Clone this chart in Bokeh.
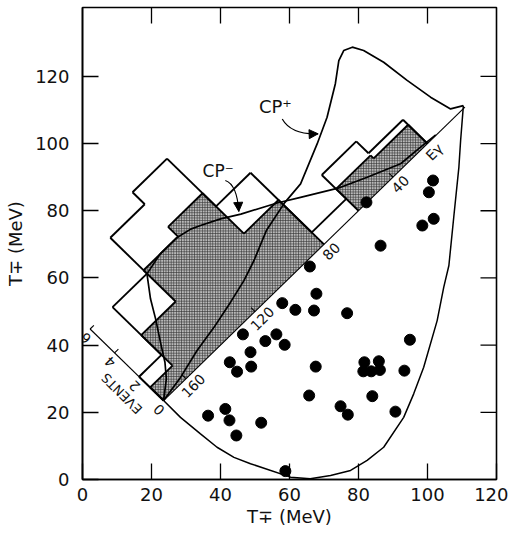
import numpy as np
from bokeh.plotting import figure
from bokeh.models import Range1d, FixedTicker, Arrow, NormalHead
from bokeh.core.properties import value
from bokeh.embed import file_html
from bokeh.resources import INLINE

# ---------------- data ----------------
# Dalitz-plot boundary, lower half (T_-+ , T_+-) in MeV
boundary_x = [23.5, 28.4, 34.2, 39.0, 43.9, 48.7, 60.3, 66.0, 71.9, 77.7, 82.5,
              87.3, 93.1, 96.0, 98.9, 102.8, 104.7, 106.2, 107.6, 109.1, 109.6, 110.4]
boundary_y = [23.5, 18.5, 13.6, 9.6, 6.6, 4.7, 0.7, 0.2, 1.2, 2.7, 5.7,
              9.6, 18.5, 25.5, 33.4, 47.3, 57.2, 63.7, 78.0, 93.0, 100.9, 111.3]

# events (T_-+ , T_+-) in MeV
events_x = [101.6, 100.4, 101.8, 98.5, 86.4, 82.3, 65.9, 67.8, 57.9, 61.7, 67.1, 76.7,
            56.2, 53.0, 58.6, 94.9, 48.7, 48.9, 67.6, 81.7, 85.9, 81.4, 83.7, 86.2,
            93.3, 65.7, 84.0, 74.8, 76.9, 90.7, 51.8, 58.8, 46.5, 42.7, 44.8, 41.4,
            36.4, 42.6, 44.6]
events_y = [89.0, 85.5, 77.6, 75.6, 69.6, 82.5, 63.4, 55.3, 52.5, 50.5, 50.3, 49.5,
            43.2, 41.2, 40.1, 41.6, 37.9, 33.6, 33.6, 34.9, 35.2, 32.2, 32.2, 32.6,
            32.4, 25.0, 24.8, 21.8, 19.3, 20.2, 16.9, 2.5, 43.2, 34.9, 32.1, 21.0,
            19.0, 17.6, 13.1]

# E_gamma histogram (bin edges in MeV, counts)
egamma_edges = [0, 20, 40, 60, 80, 100, 120, 140, 160, 173]
counts_all = [0, 2, 3, 1, 6, 10, 9, 6, 2]
counts_shaded = [0, 1.58, 1.83, 0, 3.72, 7.1, 6.28, 3.66, 1.1]

# theoretical spectra (E_gamma in MeV, events)
cp_plus_egamma = [-1.7, 3.0, 5.3, 7.1, 8.5, 10.8, 13.1, 16.6, 21.0, 28.9, 41.3, 52.1,
                  68.8, 79.1, 92.6, 96.8, 105.1, 114.0, 124.3, 136.6, 148.4, 161.2, 173]
cp_plus_events = [0.13, 0.51, 1.82, 3.48, 5.2, 6.51, 7.11, 7.32, 7.1, 6.27, 5.2, 4.49,
                  3.49, 3.35, 2.93, 2.68, 2.18, 1.75, 1.39, 1.01, 0.73, 0.28, 0.0]
cp_minus_egamma = [15, 23.1, 33.8, 47.5, 59.2, 72.8, 81.3, 95.1, 102.4, 110.2, 114.1,
                   120.7, 130.2, 140.1, 146.5, 151.0, 156.5, 161.2, 165.7, 173]
cp_minus_events = [0.03, 0.13, 0.25, 1.05, 1.78, 2.93, 3.65, 4.66, 5.29, 5.83, 6.08,
                   6.29, 6.29, 5.99, 4.8, 3.75, 2.58, 1.55, 0.8, 0.0]

axis_ticks = [0, 20, 40, 60, 80, 100, 120]
egamma_ticks = [40, 80, 120, 160]
egamma_tick_labels = ["40", "80", "120", "160"]
event_ticks = [0, 2, 4, 6]
event_tick_labels = ["0", "2", "4", "6"]

# ---------------- layout constants ----------------
X_MAX, Y_MAX = 120.0, 140.5
FRAME_W, FRAME_H = 414, 472
B_LEFT, B_RIGHT, B_TOP, B_BOTTOM = 82, 12, 7, 60
TICK_PX = 16

# ---------------- rotated (E_gamma, events) frame ----------------
Q = 220.0      # T+ + T- where E_gamma = 0 on the drawing
A = 3.55       # offset per event along (-1, +1)
E_MAX = 173.0


def rot(E, n):
    E = np.asarray(E, dtype=float)
    n = np.asarray(n, dtype=float)
    t = (Q - E) / 2.0
    return t - A * n, t + A * n


def step_segments(edges, vals):
    segs = []
    N = len(vals)
    for i, v in enumerate(vals):
        if v > 0:
            segs.append((edges[i], v, edges[i + 1], v))
    for j in range(N + 1):
        left = vals[j - 1] if j > 0 else 0
        right = vals[j] if j < N else 0
        if left != right:
            segs.append((edges[j], left, edges[j], right))
    return segs


def seg_xy(segs):
    e0 = [s[0] for s in segs]; n0 = [s[1] for s in segs]
    e1 = [s[2] for s in segs]; n1 = [s[3] for s in segs]
    x0, y0 = rot(e0, n0)
    x1, y1 = rot(e1, n1)
    return x0, y0, x1, y1


FONT = "DejaVu Sans"
INK = "#111111"

p = figure(width=B_LEFT + FRAME_W + B_RIGHT, height=B_TOP + FRAME_H + B_BOTTOM,
           x_range=Range1d(0, X_MAX), y_range=Range1d(0, Y_MAX),
           output_backend="svg", toolbar_location=None,
           min_border_left=B_LEFT, min_border_right=B_RIGHT,
           min_border_top=B_TOP, min_border_bottom=B_BOTTOM)
p.grid.visible = False
p.outline_line_color = "black"
p.outline_line_width = 1.6
p.background_fill_color = "white"
p.border_fill_color = "white"

for ax in (p.xaxis[0], p.yaxis[0]):
    ax.ticker = FixedTicker(ticks=axis_ticks)
    ax.major_tick_in = TICK_PX
    ax.major_tick_out = 0
    ax.minor_tick_line_color = None
    ax.major_tick_line_width = 1.3
    ax.axis_line_width = 1.6
    ax.axis_line_color = "black"
    ax.major_tick_line_color = "black"
    ax.major_label_text_font = FONT
    ax.major_label_text_font_size = "18px"
    ax.major_label_text_color = INK
    ax.axis_label_text_font = FONT
    ax.axis_label_text_font_size = "18px"
    ax.axis_label_text_font_style = "normal"
    ax.axis_label_text_color = INK

p.xaxis[0].axis_label = "T\u2213 (MeV)"
p.yaxis[0].axis_label = "T\u2213 (MeV)"
p.xaxis[0].major_label_standoff = 8
p.yaxis[0].major_label_standoff = 13
p.xaxis[0].axis_label_standoff = 2
p.yaxis[0].axis_label_standoff = 6

# inward ticks on the top and right sides of the frame
dx_tick = TICK_PX * X_MAX / FRAME_W
dy_tick = TICK_PX * Y_MAX / FRAME_H
top_t = axis_ticks[1:-1]
p.segment(top_t, [Y_MAX] * len(top_t), top_t, [Y_MAX - dy_tick] * len(top_t),
          line_color="black", line_width=1.3)
right_t = axis_ticks[1:]
p.segment([X_MAX] * len(right_t), right_t, [X_MAX - dx_tick] * len(right_t), right_t,
          line_color="black", line_width=1.3)

# ---------------- histogram ----------------
pe = [egamma_edges[0]]
pn = [0.0]
for i, v in enumerate(counts_shaded):
    pe += [egamma_edges[i], egamma_edges[i + 1]]
    pn += [v, v]
pe.append(egamma_edges[-1]); pn.append(0.0)
sx, sy = rot(pe, pn)
p.patch(list(sx), list(sy), fill_color="#b8b8b8", line_color=None,
        hatch_pattern="cross", hatch_scale=2.6, hatch_weight=0.7, hatch_color="#333333")

x0, y0, x1, y1 = seg_xy(step_segments(egamma_edges, counts_shaded))
p.segment(x0, y0, x1, y1, line_color="black", line_width=1.9)
x0, y0, x1, y1 = seg_xy(step_segments(egamma_edges, counts_all))
p.segment(x0, y0, x1, y1, line_color="black", line_width=1.9)

# E_gamma axis (diagonal)
ax_x, ax_y = rot([E_MAX, cp_plus_egamma[0]], [0, 0])
p.line(list(ax_x), list(ax_y), line_color="black", line_width=1.1)
tx0, ty0 = rot(egamma_ticks, [0] * len(egamma_ticks))
tx1, ty1 = rot(egamma_ticks, [0.32] * len(egamma_ticks))
p.segment(tx0, ty0, tx1, ty1, line_color="black", line_width=1.1)
lx, ly = rot(egamma_ticks, [-0.6] * len(egamma_ticks))
p.text(list(lx), list(ly), text=egamma_tick_labels, angle=np.pi / 4,
       text_font=value(FONT), text_font_size="14px", text_align="center",
       text_baseline="middle", text_color=INK)
gx, gy = rot([20.5], [-0.62])
p.text(list(gx), list(gy), text=["E\u03b3"], angle=np.pi / 4,
       text_font=value(FONT), text_font_size="14px", text_align="center",
       text_baseline="middle", text_color=INK)

# events axis
ex, ey = rot([E_MAX, E_MAX], [0, event_ticks[-1]])
p.line(list(ex), list(ey), line_color="black", line_width=1.1)
etx0, ety0 = rot([E_MAX] * 3, event_ticks[1:])
etx1, ety1 = rot([E_MAX - 2.2] * 3, event_ticks[1:])
p.segment(etx0, ety0, etx1, ety1, line_color="black", line_width=1.1)
elx, ely = rot([177.0] * len(event_ticks), [t - 0.2 for t in event_ticks])
p.text(list(elx), list(ely), text=event_tick_labels, angle=3 * np.pi / 4,
       text_font=value(FONT), text_font_size="14px", text_align="center",
       text_baseline="middle", text_color=INK)
evx, evy = rot([183.0], [2.0])
p.text(list(evx), list(evy), text=["EVENTS"], angle=3 * np.pi / 4,
       text_font=value(FONT), text_font_size="13px", text_align="center",
       text_baseline="middle", text_color=INK)

# theory curves
cpx, cpy = rot(cp_plus_egamma, cp_plus_events)
p.line(list(cpx), list(cpy), line_color="black", line_width=1.7)
cmx, cmy = rot(cp_minus_egamma, cp_minus_events)
p.line(list(cmx), list(cmy), line_color="black", line_width=1.7)

# Dalitz boundary
p.line(boundary_x, boundary_y, line_color="black", line_width=1.5)

# events
p.scatter(events_x, events_y, size=11, color="black")

# labels and arrows
p.text([55.9], [111.1], text=["CP\u207a"], text_font=value(FONT), text_font_size="18px",
       text_align="center", text_baseline="middle", text_color=INK)
p.text([39.3], [91.7], text=["CP\u207b"], text_font=value(FONT), text_font_size="17px",
       text_align="center", text_baseline="middle", text_color=INK)


def curved_arrow(xs, ys, cx, cy, xe, ye):
    p.quadratic(x0=[xs], y0=[ys], x1=[xe], y1=[ye], cx=[cx], cy=[cy],
                line_color="black", line_width=1.2)
    bx = xe - 0.2 * (xe - cx)
    by = ye - 0.2 * (ye - cy)
    p.add_layout(Arrow(end=NormalHead(size=9, fill_color="black", line_color="black"),
                       x_start=bx, y_start=by, x_end=xe, y_end=ye,
                       line_color="black", line_width=1.2))


curved_arrow(57.9, 107.3, 60.5, 102.6, 68.3, 102.9)
curved_arrow(41.4, 89.0, 44.8, 87.8, 45.3, 79.8)

open("out.html", "w").write(file_html(p, INLINE))
